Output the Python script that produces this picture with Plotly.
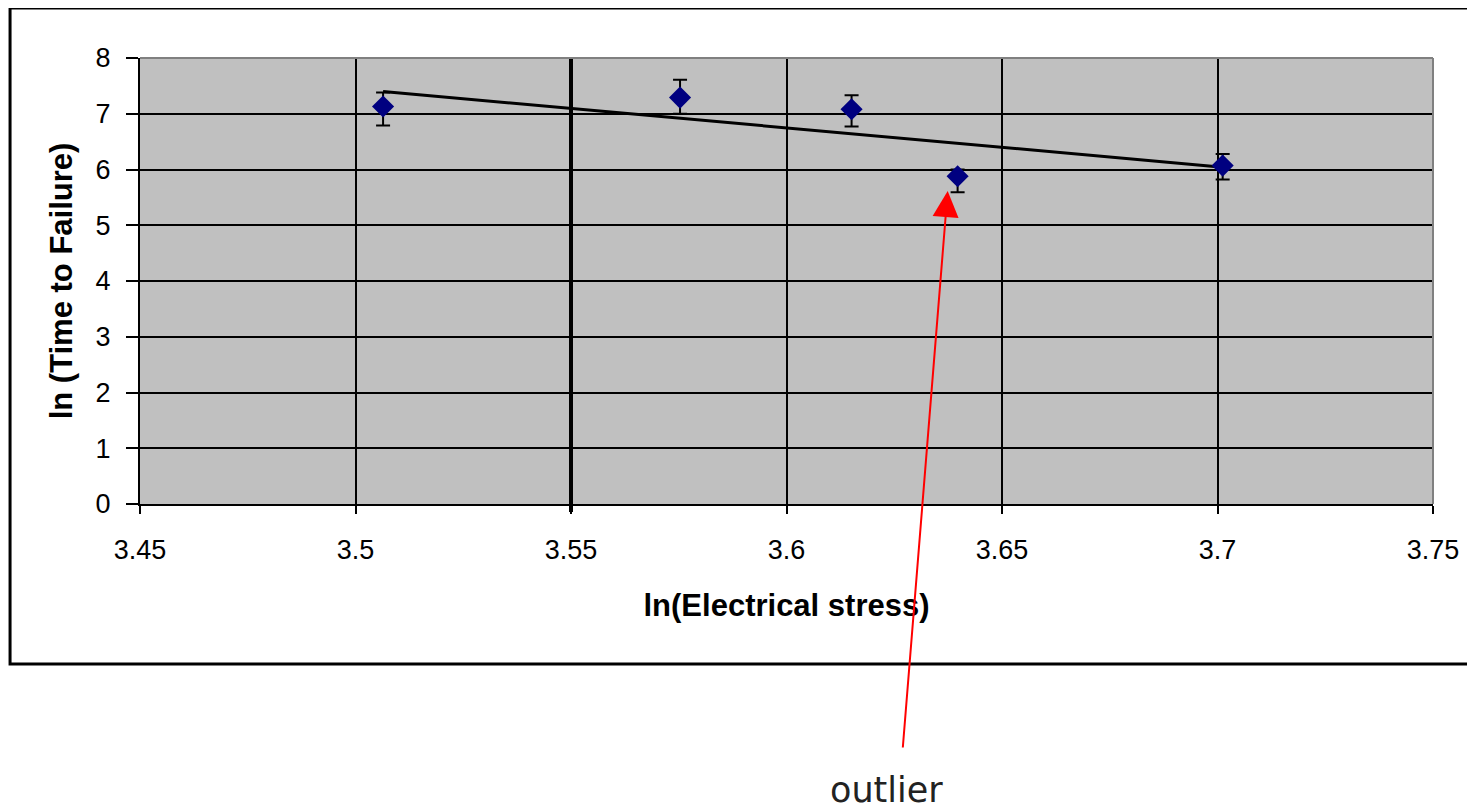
import plotly.graph_objects as go

# --- Data ---
ln_stress = [3.5064, 3.5753, 3.6151, 3.6397, 3.7012]
ln_ttf = [7.13, 7.29, 7.08, 5.88, 6.07]
err_plus = [0.25, 0.32, 0.25, 0.12, 0.21]
err_minus = [0.34, 0.29, 0.31, 0.29, 0.25]

# trend line end points
trend_x = [3.5064, 3.7012]
trend_y = [7.40, 6.04]

x_ticks = [3.45, 3.5, 3.55, 3.6, 3.65, 3.7, 3.75]
x_tick_labels = ["3.45", "3.5", "3.55", "3.6", "3.65", "3.7", "3.75"]
y_ticks = [0, 1, 2, 3, 4, 5, 6, 7, 8]

AXIS_FONT = dict(family="Arial, Liberation Sans, sans-serif", size=27, color="black")
TITLE_FONT = dict(family="Arial, Liberation Sans, sans-serif", size=31, color="black")

fig = go.Figure()

fig.add_trace(go.Scatter(
    x=trend_x, y=trend_y, mode="lines",
    line=dict(color="black", width=3),
    hoverinfo="skip", showlegend=False,
))

fig.add_trace(go.Scatter(
    x=ln_stress, y=ln_ttf, mode="markers",
    marker=dict(symbol="diamond", size=17, color="#000080"),
    error_y=dict(type="data", symmetric=False, array=err_plus, arrayminus=err_minus,
                 color="black", thickness=2, width=7),
    showlegend=False,
))

# page body has an 8px margin, so the figure is a little smaller than the window
fig.update_layout(
    width=1467, height=804,
    margin=dict(l=132, r=42, t=50, b=308),
    paper_bgcolor="white",
    plot_bgcolor="#C0C0C0",
    showlegend=False,
    xaxis=dict(
        range=[3.45, 3.75], tickvals=x_ticks, ticktext=x_tick_labels,
        showgrid=True, gridcolor="black", gridwidth=2,
        zeroline=False, showline=True, linecolor="black", linewidth=2,
        ticks="outside", ticklen=8, tickwidth=2, tickcolor="black",
        tickfont=AXIS_FONT, ticklabelstandoff=13,
        title=dict(text="<b>ln(Electrical stress)</b>", font=TITLE_FONT, standoff=30),
        automargin=False,
    ),
    yaxis=dict(
        range=[0, 8], tickvals=y_ticks,
        showgrid=True, gridcolor="black", gridwidth=2,
        zeroline=False, showline=True, linecolor="black", linewidth=2,
        ticks="outside", ticklen=12, tickwidth=2, tickcolor="black",
        tickfont=AXIS_FONT, ticklabelstandoff=10,
        title=dict(text="<b>ln (Time to Failure)</b>", font=TITLE_FONT, standoff=14),
        automargin=False,
    ),
)

# thick axis-crossing line at 3.55, plot-area border and outer chart frame
fig.add_shape(type="line", xref="x", yref="paper", x0=3.55, x1=3.55, y0=-0.018, y1=1,
              line=dict(color="black", width=4))
fig.add_shape(type="line", xref="paper", yref="paper", x0=0, x1=1, y0=1, y1=1,
              line=dict(color="#808080", width=2))
fig.add_shape(type="line", xref="paper", yref="paper", x0=1, x1=1, y0=0, y1=1,
              line=dict(color="#808080", width=2))
fig.add_shape(type="rect", xref="paper", yref="paper", x0=-0.1005, x1=1.06, y0=-0.3587, y1=1.1121,
              line=dict(color="black", width=3), fillcolor="rgba(0,0,0,0)", layer="below")

# outlier annotation
fig.add_annotation(
    x=3.6374, y=5.614, xref="x", yref="y", text="",
    showarrow=True, arrowhead=2, arrowsize=2.6, arrowwidth=2, arrowcolor="red",
    ax=-45, ay=558, axref="pixel", ayref="pixel",
)
fig.add_annotation(
    x=0.5777, y=-0.6413, xref="paper", yref="paper", text="outlier",
    showarrow=False, xanchor="center", yanchor="middle",
    font=dict(family="DejaVu Sans, Verdana, sans-serif", size=35, color="#222222"),
)

fig.write_html("out.html")
